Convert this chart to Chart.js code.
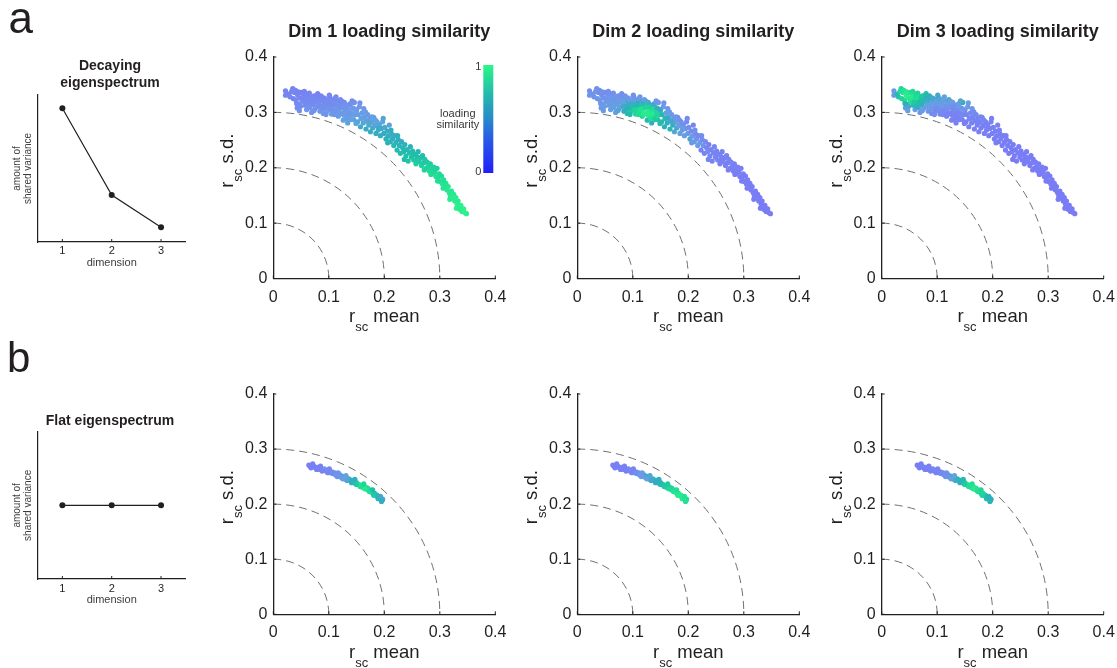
<!DOCTYPE html>
<html><head><meta charset="utf-8">
<script src="https://cdn.jsdelivr.net/npm/chart.js@4.4.1/dist/chart.umd.min.js"></script>
<style>
html,body{margin:0;padding:0;background:#fff;}
body{width:1117px;height:668px;position:relative;overflow:hidden;}
canvas{position:absolute;}
</style></head><body>
<script>
// ---------------- data ----------------
const DIMENSIONS = ['1', '2', '3'];
const DECAYING_VARIANCE = [0.91, 0.32, 0.10];
const FLAT_VARIANCE = [0.5, 0.5, 0.5];
const PANEL_TITLES = ['Dim 1 loading similarity', 'Dim 2 loading similarity', 'Dim 3 loading similarity'];
const AXIS_TICKS = [0, 0.1, 0.2, 0.3, 0.4];
const AXIS_TICK_LABELS = ['0', '0.1', '0.2', '0.3', '0.4'];
const ARC_RADII = [0.1, 0.2, 0.3];
const COLORBAR_TICK_LABELS = ['0', '1'];

// decaying eigenspectrum: r_sc mean / r_sc s.d. (same pairs in all three panels)
const TOP_MEAN = [
 .022,.022,.035,.030,.038,.041,.044,.046,.048,.043,.050,.052,.047,
 .055,.057,.059,.060,.062,.064,.066,.067,.069,.070,.072,.074,.075,.077,.078,.079,
 .081,.082,.084,.085,.087,.088,.090,.091,.093,.094,.096,.097,.099,.100,.102,.103,.105,.106,.108,.109,
 .111,.112,.114,.116,.117,.118,.120,.121,.123,.125,.126,.128,.129,.131,.133,.134,.136,.138,.139,.141,.143,.145,.146,.148,
 .150,.152,.153,.155,.157,.158,.160,.162,.163,.165,.167,.168,.170,.172,.174,.175,.177,.179,.181,.183,.185,.187,.189,
 .191,.193,.195,.197,.199,.201,.203,.205,.207,.209,.211,.213,.215,.217,.219,.221,.223,.225,.227,.229,.231,.233,.235,.237,.239,
 .241,.243,.245,.247,.249,.251,.253,.255,.257,.259,.261,.263,.265,.267,.269,.271,.273,.275,.277,.279,.281,.283,.285,.287,.289,
 .291,.293,.295,.297,.299,.301,.303,.305,.307,.309,.311,.313,.315,.317,.319,.321,.323,.325,.327,.329,.331,.333,.335,.336,.338,.340,.343,.348,
 .028,.033,.036,.040,.042,.045,.049,.053,.056,.058,.061,.063,.065,.068,.071,.073,.076,.080,.083,.086,
 .089,.092,.095,.098,.101,.104,.107,.110,.113,.115,.119,.122,.124,.127,.130,.132,.135,.137,.140,.142,
 .144,.147,.149,.156,.161,.166,.171,.178,.184,.190,.198,.206,.212,.224,.236,.248,.260,.272,.284,.296,
 .306,.318,.330,.345];
const TOP_SD = [
 .339,.331,.343,.328,.336,.322,.331,.315,.326,.308,.336,.320,.303,
 .330,.313,.324,.305,.333,.318,.309,.326,.300,.321,.314,.330,.306,.319,.325,.310,
 .328,.316,.302,.321,.311,.327,.298,.318,.307,.324,.313,.302,.320,.309,.327,.315,.297,.322,.305,.317,
 .325,.300,.312,.320,.293,.306,.316,.323,.299,.311,.286,.318,.304,.296,.313,.281,.305,.292,.316,.299,.308,.287,.318,.296,
 .304,.283,.296,.310,.274,.289,.299,.281,.307,.292,.270,.285,.296,.277,.289,.265,.282,.272,.291,.276,.262,.283,.268,
 .278,.258,.271,.283,.262,.273,.252,.266,.257,.277,.247,.261,.253,.240,.258,.246,.232,.251,.240,.226,.247,.236,.229,.242,.221,
 .233,.212,.227,.238,.219,.230,.214,.224,.207,.220,.229,.211,.218,.204,.222,.209,.215,.199,.210,.202,.194,.207,.198,.190,.201,
 .193,.184,.199,.182,.189,.175,.185,.170,.178,.165,.172,.160,.166,.155,.149,.158,.145,.152,.140,.146,.135,.140,.130,.125,.132,.121,.126,.117,
 .333,.338,.325,.340,.316,.337,.311,.327,.338,.318,.327,.310,.335,.317,.329,.303,.323,.334,.311,.330,
 .306,.326,.296,.316,.331,.305,.313,.296,.328,.305,.297,.309,.320,.295,.310,.289,.298,.314,.287,.321,
 .296,.306,.280,.317,.290,.301,.283,.292,.286,.271,.289,.245,.268,.258,.215,.226,.213,.196,.188,.176,
 .163,.143,.127,.119];
const TOP_SIM_DIM1 = [
 .10,.12,.08,.15,.10,.18,.12,.20,.14,.22,.10,.16,.25,
 .12,.20,.15,.28,.10,.18,.25,.14,.30,.16,.22,.12,.30,.18,.14,.24,
 .12,.22,.30,.18,.25,.14,.32,.20,.26,.15,.22,.32,.18,.28,.14,.24,.35,.18,.30,.22,
 .16,.35,.26,.20,.40,.30,.22,.18,.38,.28,.45,.22,.34,.40,.26,.48,.32,.42,.24,.38,.30,.46,.22,.40,
 .34,.50,.40,.30,.55,.44,.36,.50,.30,.42,.58,.46,.36,.52,.40,.60,.48,.55,.38,.50,.62,.44,.56,
 .50,.62,.55,.45,.60,.52,.66,.58,.62,.48,.68,.58,.64,.70,.56,.64,.72,.60,.68,.74,.62,.68,.72,.66,.76,
 .70,.78,.72,.66,.76,.72,.80,.74,.82,.76,.70,.80,.76,.84,.74,.80,.78,.86,.80,.84,.88,.82,.86,.90,.84,
 .86,.90,.84,.90,.88,.92,.88,.94,.90,.94,.92,.95,.93,.96,.95,.94,.97,.95,.96,.97,.98,.96,.98,.97,.99,.98,1.0,.98,
 .10,.12,.10,.14,.16,.10,.20,.12,.10,.18,.14,.22,.10,.16,.12,.24,.14,.10,.20,.12,
 .24,.14,.28,.18,.12,.26,.20,.30,.14,.28,.32,.26,.20,.36,.28,.40,.34,.26,.42,.22,
 .38,.32,.48,.28,.44,.38,.50,.42,.46,.56,.50,.64,.60,.66,.74,.76,.80,.84,.88,.90,
 .93,.96,.98,1.0];
const TOP_SIM_DIM2 = [
 .25,.30,.22,.28,.20,.35,.25,.30,.22,.32,.18,.28,.35,
 .25,.35,.22,.38,.18,.30,.40,.25,.42,.28,.35,.20,.45,.30,.26,.40,
 .22,.45,.60,.40,.62,.25,.70,.55,.75,.30,.65,.80,.45,.78,.28,.70,.85,.40,.88,.60,
 .35,.90,.80,.55,.85,.95,.70,.35,.98,.85,.70,.55,.95,.92,.65,.60,.90,.88,.40,.85,.70,.80,.30,.75,
 .65,.75,.70,.35,.65,.70,.45,.62,.25,.50,.70,.55,.30,.60,.35,.50,.45,.55,.25,.40,.45,.20,.35,
 .20,.35,.25,.15,.40,.22,.55,.18,.30,.12,.45,.20,.25,.35,.15,.40,.10,.20,.28,.12,.18,.10,.22,.08,.15,
 .10,.12,.08,.15,.10,.08,.12,.10,.06,.12,.08,.10,.06,.08,.10,.05,.08,.06,.10,.05,.06,.08,.05,.04,.06,
 .05,.04,.06,.05,.04,.05,.03,.05,.04,.03,.05,.04,.03,.04,.05,.03,.04,.03,.02,.04,.03,.02,.03,.04,.02,.03,.02,.03,
 .25,.28,.30,.22,.35,.25,.40,.30,.22,.38,.32,.45,.25,.40,.30,.50,.35,.22,.55,.28,
 .65,.35,.75,.55,.25,.85,.70,.90,.30,.92,.95,.85,.50,.96,.85,.90,.95,.55,.80,.30,
 .85,.60,.70,.30,.60,.40,.55,.30,.25,.40,.20,.30,.25,.20,.12,.10,.08,.06,.05,.04,
 .04,.03,.03,.02];
const TOP_SIM_DIM3 = [
 .40,.35,.85,.80,.95,.90,.98,.70,.95,.50,.90,.92,.35,
 .95,.75,.90,.40,.85,.80,.55,.92,.30,.75,.60,.80,.35,.65,.70,.40,
 .60,.45,.25,.55,.30,.65,.15,.40,.20,.50,.30,.15,.45,.20,.55,.35,.12,.50,.18,.40,
 .45,.12,.25,.40,.10,.20,.35,.55,.10,.22,.08,.40,.15,.10,.30,.08,.18,.10,.45,.12,.25,.08,.60,.12,
 .15,.08,.12,.35,.06,.10,.18,.08,.30,.12,.05,.10,.15,.08,.10,.05,.08,.06,.12,.06,.05,.08,.05,
 .08,.05,.06,.10,.04,.06,.04,.05,.04,.08,.03,.05,.04,.03,.05,.03,.02,.04,.03,.02,.04,.03,.02,.03,.02,
 .03,.02,.03,.04,.02,.03,.02,.03,.02,.03,.04,.02,.03,.02,.03,.02,.03,.02,.03,.02,.02,.03,.02,.02,.03,
 .02,.03,.02,.02,.03,.02,.02,.03,.02,.02,.03,.02,.02,.02,.03,.02,.02,.02,.03,.02,.02,.02,.02,.03,.02,.02,.02,.02,
 .70,.90,.85,.92,.60,.95,.55,.95,.88,.80,.90,.60,.85,.75,.80,.35,.70,.75,.45,.65,
 .30,.55,.20,.40,.55,.20,.35,.15,.45,.18,.12,.25,.40,.10,.22,.08,.12,.35,.10,.50,
 .15,.30,.08,.40,.12,.20,.10,.15,.12,.06,.08,.05,.06,.04,.03,.03,.03,.02,.02,.02,
 .02,.02,.02,.02];

// flat eigenspectrum
const BOT_MEAN = [
 .064,.066,.070,.073,.076,.079,.082,.084,.087,.090,
 .092,.095,.097,.100,.102,.104,.107,.109,.111,.113,
 .116,.118,.120,.122,.124,.126,.128,.130,.132,.134,
 .136,.138,.140,.142,.144,
 .146,.148,.150,.152,.154,.156,.158,.160,.162,.164,
 .166,.168,.170,.172,.174,.176,.178,.180,.182,.184,
 .186,.188,.190,.192,.194,.196,.197,
 .068,.078,.088,.098,.106,.115,.125,.133,.141,.149,.157,.165,.173,.181,.189,.195,
 .071,.085,.101,.117,.131,.147,.163,.179,.193];
const BOT_SD = [
 .271,.269,.268,.269,.266,.267,.265,.263,.264,.262,
 .264,.260,.262,.259,.261,.257,.258,.255,.257,.253,
 .254,.251,.253,.249,.251,.247,.249,.245,.247,.243,
 .246,.244,.242,.243,.240,
 .241,.238,.239,.236,.236,.233,.234,.231,.233,.229,
 .231,.227,.229,.225,.226,.222,.223,.219,.220,.216,
 .217,.213,.214,.210,.211,.207,.209,
 .266,.263,.260,.257,.256,.250,.246,.243,.239,.236,.232,.228,.223,.216,.210,.205,
 .273,.269,.264,.257,.252,.245,.237,.226,.214];
const BOT_SIM_DIM1 = [
 .05,.06,.05,.08,.06,.10,.08,.12,.10,.15,
 .35,.12,.18,.40,.15,.20,.25,.18,.30,.22,
 .35,.25,.45,.30,.50,.35,.55,.45,.60,.50,.65,.55,.70,.60,.75,
 .72,.80,.85,.75,.90,.82,.95,.88,.92,.98,.85,.95,.90,1.0,.88,.92,.80,.85,.75,.80,.70,.72,.65,.68,.60,.62,.55,
 .05,.06,.10,.12,.20,.30,.40,.50,.65,.80,.90,.95,.90,.80,.70,.60,
 .05,.08,.15,.25,.40,.60,.85,.75,.55];
const BOT_SIM_DIM2 = [
 .05,.05,.06,.05,.08,.06,.10,.08,.12,.10,
 .15,.12,.20,.15,.25,.30,.20,.35,.25,.40,
 .45,.35,.50,.40,.55,.45,.60,.50,.55,.60,.50,.65,.55,.60,.70,
 .65,.72,.70,.78,.75,.80,.82,.78,.85,.88,.82,.90,.85,.92,.88,.95,.90,.94,.92,.96,.95,.98,.95,.97,.92,.95,.90,
 .05,.06,.08,.12,.20,.35,.45,.55,.60,.70,.80,.88,.92,.95,.95,.92,
 .05,.08,.12,.30,.50,.60,.80,.90,.92];
const BOT_SIM_DIM3 = [
 .05,.05,.06,.05,.06,.08,.06,.10,.08,.10,
 .12,.10,.15,.12,.18,.15,.20,.22,.18,.25,
 .30,.25,.40,.35,.50,.45,.55,.60,.50,.65,.60,.70,.65,.75,.70,
 .80,.75,.85,.80,.90,.85,.92,.88,.95,.90,.96,.92,.95,.90,.94,.88,.92,.85,.88,.80,.85,.78,.75,.70,.72,.65,.62,
 .05,.05,.08,.10,.15,.25,.45,.55,.65,.80,.90,.95,.90,.85,.75,.65,
 .05,.06,.10,.20,.45,.70,.90,.85,.65];

// ---------------- styling helpers ----------------
const INK = '#231f20';
const FONT = '"Liberation Sans", Arial, Helvetica, sans-serif';
const POINT_STOPS = [[0,[122,122,246]],[0.3,[112,150,234]],[0.45,[98,162,224]],[0.6,[52,172,192]],[0.75,[32,190,170]],[0.88,[32,218,150]],[1,[45,242,140]]];
function simColor(v){
  for (let i=1;i<POINT_STOPS.length;i++){
    const [p1,c1]=POINT_STOPS[i-1],[p2,c2]=POINT_STOPS[i];
    if (v<=p2){const t=(v-p1)/(p2-p1);return 'rgb('+c1.map((c,k)=>Math.round(c+(c2[k]-c)*t)).join(',')+')';}
  }
  return 'rgb(45,242,140)';
}
function mkCanvas(left, top, w, h){
  const c=document.createElement('canvas');
  c.width=w;c.height=h;c.style.left=left+'px';c.style.top=top+'px';c.style.width=w+'px';c.style.height=h+'px';
  document.body.appendChild(c);return c;
}
function line(ctx,x1,y1,x2,y2){ctx.beginPath();ctx.moveTo(x1,y1);ctx.lineTo(x2,y2);ctx.stroke();}
function drawRsc(ctx, cx, baseY, rest, size){
  const main=size+'px '+FONT, sub=Math.round(size*0.68)+'px '+FONT;
  ctx.font=main; const wr=ctx.measureText('r').width, wm=ctx.measureText(rest).width;
  ctx.font=sub; const ws=ctx.measureText('sc').width;
  let x=cx-(wr+ws+wm)/2;
  ctx.textAlign='left';ctx.textBaseline='alphabetic';ctx.fillStyle=INK;
  ctx.font=main;ctx.fillText('r',x,baseY);x+=wr;
  ctx.font=sub;ctx.fillText('sc',x,baseY+9);x+=ws;
  ctx.font=main;ctx.fillText(rest,x,baseY);
}

const scatterDeco = {
  id:'scatterDeco',
  beforeDatasetsDraw(chart, args, o){
    const {ctx, scales:{x,y}} = chart;
    const x0=x.getPixelForValue(0), y0=y.getPixelForValue(0);
    ctx.save();ctx.strokeStyle='#707070';ctx.lineWidth=1;ctx.setLineDash([8,5]);
    ARC_RADII.forEach(r=>{
      const rx=x.getPixelForValue(r)-x0, ry=y0-y.getPixelForValue(r);
      ctx.beginPath();ctx.ellipse(x0,y0,rx,ry,0,-Math.PI/2,0);ctx.stroke();
    });
    ctx.restore();
  },
  afterDraw(chart, args, o){
    const {ctx, chartArea:a, scales:{x,y}} = chart;
    const x0=x.getPixelForValue(0), y0=y.getPixelForValue(0);
    ctx.save();
    ctx.strokeStyle=INK;ctx.lineWidth=1;
    AXIS_TICKS.forEach(v=>{
      const px=x.getPixelForValue(v);line(ctx,px,y0,px,y0-3);
      const py=y.getPixelForValue(v);line(ctx,x0,py,x0+3,py);
    });
    if (o.title){
      ctx.fillStyle=INK;ctx.font='bold 18px '+FONT;ctx.textAlign='center';ctx.textBaseline='middle';
      ctx.fillText(o.title,(a.left+a.right)/2+5,a.top-25);
    }
    drawRsc(ctx,(a.left+a.right)/2,a.bottom+43.5,' mean',18.5);
    ctx.save();ctx.translate(a.left-40,(a.top+a.bottom)/2-7);ctx.rotate(-Math.PI/2);
    drawRsc(ctx,0,0,' s.d.',18.5);ctx.restore();
    if (o.colorbar){
      const bl=a.left+210, bt=a.top+8, bw=10, bh=108;
      const g=ctx.createLinearGradient(0,bt+bh,0,bt);
      g.addColorStop(0,'rgb(34,30,250)');g.addColorStop(0.33,'rgb(40,95,228)');g.addColorStop(0.5,'rgb(38,138,200)');
      g.addColorStop(0.75,'rgb(36,190,170)');g.addColorStop(1,'rgb(40,248,135)');
      ctx.fillStyle=g;ctx.fillRect(bl,bt,bw,bh);
      ctx.fillStyle='#3a3636';ctx.font='11px '+FONT;ctx.textAlign='right';ctx.textBaseline='middle';
      ctx.fillText(COLORBAR_TICK_LABELS[1],bl-2,bt+2);
      ctx.fillText(COLORBAR_TICK_LABELS[0],bl-2,bt+bh-1);
      ctx.textAlign='center';
      ctx.fillText('loading',a.left+184.5,a.top+57);
      ctx.fillText('similarity',a.left+184.5,a.top+68);
    }
    ctx.restore();
  }
};

function scatterChart(areaL, row, xs, ys, sims, title, colorbar){
  const areaT = row===0?57:394, areaB = row===0?278.5:614.3, areaR = areaL+222;
  const cL = Math.round(areaL-62), cT = row===0?0:334, cW = 306, cH = 334;
  const YW = 50, XH = 53;
  const pts = xs.map((v,i)=>({x:v,y:ys[i]}));
  const canvas = mkCanvas(cL,cT,cW,cH);
  const tickStyle = {color:INK,font:{family:FONT,size:16}};
  return new Chart(canvas,{
    type:'scatter',
    data:{datasets:[{data:pts,pointBackgroundColor:sims.map(simColor),pointBorderWidth:0,pointRadius:2.6,pointHoverRadius:2.6}]},
    options:{
      responsive:false,animation:false,devicePixelRatio:1,events:[],
      layout:{padding:{left:areaL-cL-YW,top:areaT-cT,right:cL+cW-areaR,bottom:cT+cH-areaB-XH}},
      plugins:{legend:{display:false},tooltip:{enabled:false},title:{display:false},
        scatterDeco:{title:title,colorbar:colorbar}},
      scales:{
        x:{type:'linear',min:0,max:0.4,
          afterBuildTicks:s=>{s.ticks=AXIS_TICKS.map(v=>({value:v}));},
          afterFit:s=>{s.height=XH;},
          ticks:Object.assign({padding:9,maxRotation:0,callback:(v)=>AXIS_TICK_LABELS[AXIS_TICKS.indexOf(v)]},tickStyle),
          grid:{display:false,drawTicks:false},border:{display:true,color:INK,width:1.3}},
        y:{type:'linear',min:0,max:0.4,
          afterBuildTicks:s=>{s.ticks=AXIS_TICKS.map(v=>({value:v}));},
          afterFit:s=>{s.width=YW;},
          ticks:Object.assign({padding:6,callback:(v)=>AXIS_TICK_LABELS[AXIS_TICKS.indexOf(v)]},tickStyle),
          grid:{display:false,drawTicks:false},border:{display:true,color:INK,width:1.3}}
      }
    },
    plugins:[scatterDeco]
  });
}

const specDeco = {
  id:'specDeco',
  afterDraw(chart,args,o){
    const {ctx, chartArea:a, scales:{x}} = chart;
    ctx.save();
    ctx.strokeStyle=INK;ctx.lineWidth=1;
    DIMENSIONS.forEach((d,i)=>{const px=x.getPixelForValue(i);line(ctx,px,a.bottom,px,a.bottom-3);});
    ctx.fillStyle=INK;ctx.textAlign='left';ctx.textBaseline='alphabetic';
    ctx.font=o.letterSize+'px '+FONT;ctx.fillText(o.letter,o.letterX,o.letterY);
    ctx.font='bold 14px '+FONT;ctx.textAlign='center';ctx.textBaseline='middle';
    o.titleLines.forEach((t,i)=>ctx.fillText(t,110,o.titleY+i*17));
    ctx.fillStyle='#3f3b3b';ctx.font='11px '+FONT;
    ctx.fillText('dimension',(a.left+a.right)/2,o.dimY);
    ctx.font='10px '+FONT;
    ctx.save();ctx.translate(0,(a.top+a.bottom)/2);ctx.rotate(-Math.PI/2);
    ctx.fillText('amount of',0,17.5);ctx.fillText('shared variance',0,28.5);
    ctx.restore();
    ctx.restore();
  }
};

function spectrumChart(cT, areaT, areaB, values, opts){
  const cW=200, cH=300, XH=20, areaL=37.7, areaR=185.7;
  const canvas=mkCanvas(0,cT,cW,cH);
  return new Chart(canvas,{
    type:'line',
    data:{labels:DIMENSIONS,datasets:[{data:values,borderColor:INK,borderWidth:1.2,pointRadius:3,pointBackgroundColor:INK,pointBorderWidth:0,tension:0}]},
    options:{
      responsive:false,animation:false,devicePixelRatio:1,events:[],
      layout:{padding:{left:areaL,top:areaT-cT,right:cW-areaR,bottom:cT+cH-areaB-XH}},
      plugins:{legend:{display:false},tooltip:{enabled:false},specDeco:opts},
      scales:{
        x:{type:'category',offset:true,afterFit:s=>{s.height=XH;},
          ticks:{padding:opts.tickPad,color:INK,font:{family:FONT,size:11},maxRotation:0},
          grid:{display:false,drawTicks:false},border:{display:true,color:INK,width:1.2}},
        y:{min:0,max:1,afterFit:s=>{s.width=0;},ticks:{display:false},
          grid:{display:false,drawTicks:false},border:{display:true,color:INK,width:1.2}}
      }
    },
    plugins:[specDeco]
  });
}

spectrumChart(0,95,242,DECAYING_VARIANCE,{letter:'a',letterSize:44,letterX:8.5,letterY:33,titleLines:['Decaying','eigenspectrum'],titleY:66,dimY:262.5,tickPad:2});
spectrumChart(334,431.7,579,FLAT_VARIANCE,{letter:'b',letterSize:42,letterX:7,letterY:38,titleLines:['Flat eigenspectrum'],titleY:87,dimY:265.5,tickPad:3});

const AREA_LEFTS=[273.3,577.3,881.7];
const TOP_SIMS=[TOP_SIM_DIM1,TOP_SIM_DIM2,TOP_SIM_DIM3];
const BOT_SIMS=[BOT_SIM_DIM1,BOT_SIM_DIM2,BOT_SIM_DIM3];
AREA_LEFTS.forEach((L,i)=>{
  scatterChart(L,0,TOP_MEAN,TOP_SD,TOP_SIMS[i],PANEL_TITLES[i],i===0);
  scatterChart(L,1,BOT_MEAN,BOT_SD,BOT_SIMS[i],null,false);
});
</script>
</body></html>
